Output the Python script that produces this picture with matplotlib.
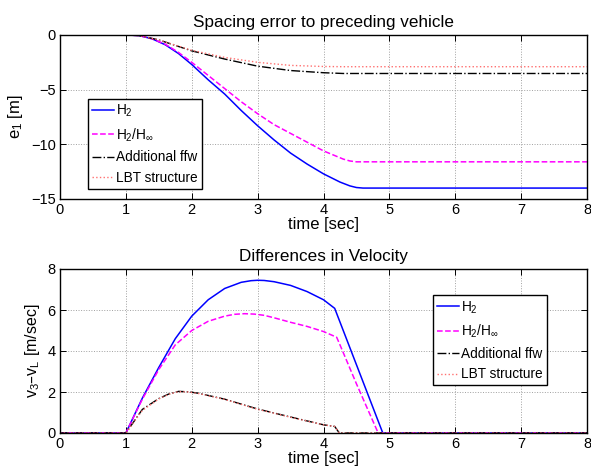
import matplotlib
matplotlib.use('Agg')
import matplotlib.pyplot as plt

plt.rcParams['font.family'] = ['Liberation Sans', 'DejaVu Sans']
plt.rcParams['mathtext.default'] = 'regular'
plt.rcParams['font.size'] = 10.5

# spacing error e1 [m]
t_h2 = [0, 1.0, 1.2, 1.4, 1.6, 1.8, 2.0, 2.25, 2.5, 2.75, 3.0, 3.25, 3.5, 3.75, 4.0, 4.25, 4.4, 4.5, 4.6, 8]
e_h2 = [0, 0, -0.05, -0.35, -0.9, -1.7, -2.7, -4.1, -5.4, -6.9, -8.3, -9.6, -10.8, -11.8, -12.7, -13.45, -13.8, -13.95, -14.0, -14.0]
t_hinf = [0, 1.0, 1.2, 1.4, 1.6, 1.8, 2.0, 2.25, 2.5, 2.75, 3.0, 3.25, 3.5, 3.75, 4.0, 4.2, 4.3, 4.4, 4.5, 8]
e_hinf = [0, 0, -0.05, -0.35, -0.85, -1.6, -2.5, -3.7, -4.9, -6.1, -7.2, -8.2, -9.0, -9.8, -10.6, -11.1, -11.35, -11.52, -11.6, -11.6]
t_ffw = [0, 1.0, 1.2, 1.5, 1.75, 2.0, 2.5, 3.0, 3.5, 4.0, 4.3, 8]
e_ffw = [0, 0, -0.05, -0.45, -0.95, -1.45, -2.2, -2.85, -3.25, -3.45, -3.52, -3.52]
t_lbt = [0, 1.0, 1.2, 1.5, 1.75, 2.0, 2.5, 3.0, 3.5, 4.0, 4.3, 8]
e_lbt = [0, 0, -0.05, -0.45, -0.93, -1.4, -2.05, -2.5, -2.78, -2.88, -2.9, -2.9]

# velocity difference v3 - vL [m/sec]
tv_h2 = [0, 1.0, 1.25, 1.5, 1.75, 2.0, 2.25, 2.5, 2.75, 2.9, 3.0, 3.1, 3.25, 3.5, 3.75, 4.0, 4.17, 4.9, 8]
v_h2 = [0, 0, 1.7, 3.2, 4.6, 5.7, 6.5, 7.05, 7.35, 7.43, 7.45, 7.44, 7.38, 7.2, 6.9, 6.5, 6.08, 0, 0]
tv_hinf = [0, 1.0, 1.25, 1.5, 1.75, 2.0, 2.25, 2.5, 2.65, 2.8, 2.95, 3.1, 3.25, 3.5, 3.75, 4.0, 4.2, 4.25, 4.5, 4.83, 8]
v_hinf = [0, 0, 1.65, 3.1, 4.3, 5.0, 5.45, 5.7, 5.79, 5.82, 5.8, 5.74, 5.62, 5.4, 5.2, 4.95, 4.67, 4.3, 2.4, 0, 0]
tv_ffw = [0, 1.0, 1.25, 1.5, 1.65, 1.8, 1.95, 2.1, 2.5, 3.0, 3.5, 4.0, 4.17, 4.24, 8]
v_ffw = [0, 0, 1.15, 1.68, 1.9, 2.03, 2.01, 1.94, 1.65, 1.17, 0.78, 0.4, 0.32, 0, 0]
tv_lbt = [0, 1.0, 1.25, 1.5, 1.65, 1.8, 1.95, 2.1, 2.5, 3.0, 3.5, 4.0, 4.17, 4.24, 8]
v_lbt = [0, 0, 1.1, 1.66, 1.89, 2.02, 2.0, 1.93, 1.64, 1.16, 0.77, 0.4, 0.32, 0, 0]

labels = ['H$_2$', 'H$_2$/H$_\\infty$', 'Additional ffw', 'LBT structure']
styles = [dict(color='#0000ff', ls='-', lw=1.1),
          dict(color='#ff00ff', ls='--', lw=1.1),
          dict(color='black', ls='-.', lw=1.0),
          dict(color='#ff7070', ls=':', lw=1.0)]

fig = plt.figure(figsize=(5.91, 4.69), dpi=100)
ax1 = fig.add_axes([60/591, 1 - 199/469, 527/591, 164/469])
ax2 = fig.add_axes([60/591, 1 - 433/469, 527/591, 164/469])


def style_axes(ax):
    ax.set_xlim(0, 8)
    ax.set_xticks(range(0, 9))
    ax.grid(True, ls=':', color='#a0a0a0', lw=0.7)
    ax.tick_params(direction='in', top=True, right=True, length=4, width=0.7, pad=3)
    for s in ax.spines.values():
        s.set_linewidth(1.0)
    ax.set_xlabel('time [sec]', fontsize=12, labelpad=0)


def add_legend(ax, anchor):
    leg = ax.legend(loc='upper left', bbox_to_anchor=anchor, borderaxespad=0,
                    fancybox=False, edgecolor='black', framealpha=1, handlelength=1.6,
                    handletextpad=0.15, labelspacing=0.5, borderpad=0.3, fontsize=9.8)
    leg.get_frame().set_linewidth(1.0)


ax1.plot(t_h2, e_h2, label=labels[0], **styles[0])
ax1.plot(t_hinf, e_hinf, label=labels[1], **styles[1])
ax1.plot(t_ffw, e_ffw, label=labels[2], **styles[2])
ax1.plot(t_lbt, e_lbt, label=labels[3], **styles[3])
style_axes(ax1)
ax1.set_ylim(-15, 0)
ax1.set_yticks([-15, -10, -5, 0])
ax1.set_ylabel('e$_1$ [m]', fontsize=12, labelpad=4)
ax1.set_title('Spacing error to preceding vehicle', fontsize=12.3, pad=6)
add_legend(ax1, (0.053, 0.61))

ax2.plot(tv_h2, v_h2, label=labels[0], **styles[0])
ax2.plot(tv_hinf, v_hinf, label=labels[1], **styles[1])
ax2.plot(tv_ffw, v_ffw, label=labels[2], **styles[2])
ax2.plot(tv_lbt, v_lbt, label=labels[3], **styles[3])
style_axes(ax2)
ax2.set_ylim(0, 8)
ax2.set_yticks([0, 2, 4, 6, 8])
ax2.set_ylabel('v$_3$\u2013v$_L$ [m/sec]', fontsize=11.5, labelpad=4)
ax2.set_title('Differences in Velocity', fontsize=12.3, pad=6)
add_legend(ax2, (0.708, 0.841))

fig.savefig('out.png', dpi=100)
